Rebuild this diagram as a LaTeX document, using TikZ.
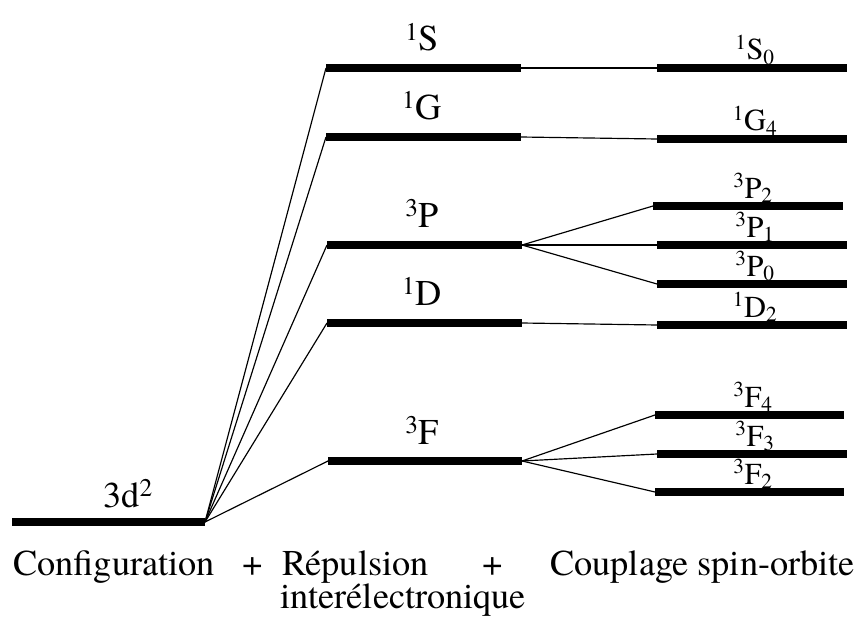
\documentclass[tikz,border=0pt]{standalone}
\usepackage{fontspec}
\setmainfont{texgyretermes-regular.otf}
\begin{document}
\begin{tikzpicture}[x=0.03cm,y=-0.03cm,
  lvl/.style={line width=0.24cm},
  conn/.style={line width=1pt},
  term/.style={font=\fontsize{31}{36}\selectfont,anchor=base,inner sep=0pt},
  fine/.style={font=\fontsize{26}{30}\selectfont,anchor=base,inner sep=0pt}]
\useasboundingbox (0,0) rectangle (858,618);
% configuration
\coordinate (cfg-l) at (12,522); \coordinate (cfg-r) at (205,522);
% interelectronic repulsion terms
\coordinate (S-l) at (326,68);  \coordinate (S-r) at (521,68);
\coordinate (G-l) at (326,137); \coordinate (G-r) at (521,137);
\coordinate (P-l) at (327,245); \coordinate (P-r) at (522,245);
\coordinate (D-l) at (327,323); \coordinate (D-r) at (522,323);
\coordinate (F-l) at (328,461); \coordinate (F-r) at (522,461);
% spin-orbit levels (left ends)
\coordinate (S0) at (657,68);
\coordinate (G4) at (657,139);
\coordinate (P2) at (653,206);
\coordinate (P1) at (657,245);
\coordinate (P0) at (657,284);
\coordinate (D2) at (657,325);
\coordinate (F4) at (655,415);
\coordinate (F3) at (657,454);
\coordinate (F2) at (655,492);
% labels
\node[term] (cfg-lab) at (128,507) {3d\textsuperscript{2}};
\node[term] (S-lab) at (422,51) {\textsuperscript{1}S};
\node[term] (G-lab) at (422,119) {\textsuperscript{1}G};
\node[term] (P-lab) at (422,227) {\textsuperscript{3}P};
\node[term] (D-lab) at (422,305) {\textsuperscript{1}D};
\node[term] (F-lab) at (422,444) {\textsuperscript{3}F};
\node[fine] (S0-lab) at (755,60) {\textsuperscript{1}S\textsubscript{0}};
\node[fine] (G4-lab) at (755,131) {\textsuperscript{1}G\textsubscript{4}};
\node[fine] (P2-lab) at (753,198) {\textsuperscript{3}P\textsubscript{2}};
\node[fine] (P1-lab) at (755,237) {\textsuperscript{3}P\textsubscript{1}};
\node[fine] (P0-lab) at (755,276) {\textsuperscript{3}P\textsubscript{0}};
\node[fine] (D2-lab) at (755,317) {\textsuperscript{1}D\textsubscript{2}};
\node[fine] (F4-lab) at (753,407) {\textsuperscript{3}F\textsubscript{4}};
\node[fine] (F3-lab) at (755,446) {\textsuperscript{3}F\textsubscript{3}};
\node[fine] (F2-lab) at (753,484) {\textsuperscript{3}F\textsubscript{2}};
% levels
\draw[lvl] (cfg-l) -- (cfg-r);
\draw[lvl] (S-l) -- (S-r);
\draw[lvl] (G-l) -- (G-r);
\draw[lvl] (P-l) -- (P-r);
\draw[lvl] (D-l) -- (D-r);
\draw[lvl] (F-l) -- (F-r);
\draw[lvl] (S0) -- ++(190,0);
\draw[lvl] (G4) -- ++(190,0);
\draw[lvl] (P2) -- ++(190,0);
\draw[lvl] (P1) -- ++(190,0);
\draw[lvl] (P0) -- ++(190,0);
\draw[lvl] (D2) -- ++(190,0);
\draw[lvl] (F4) -- ++(189,0);
\draw[lvl] (F3) -- ++(190,0);
\draw[lvl] (F2) -- ++(189,0);
% connectors
\draw[conn] (cfg-r) -- (S-l);
\draw[conn] (cfg-r) -- (G-l);
\draw[conn] (cfg-r) -- (P-l);
\draw[conn] (cfg-r) -- (D-l);
\draw[conn] (cfg-r) -- (F-l);
\draw[conn] (S-r) -- (S0);
\draw[conn] (G-r) -- (G4);
\draw[conn] (P-r) -- (P2);
\draw[conn] (P-r) -- (P1);
\draw[conn] (P-r) -- (P0);
\draw[conn] (D-r) -- (D2);
\draw[conn] (F-r) -- (F4);
\draw[conn] (F-r) -- (F3);
\draw[conn] (F-r) -- (F2);
% bottom captions
\node[term,anchor=base west] (cfg-txt) at (13,575) {Configuration};
\node[term] (plus-a) at (253,575) {+};
\node[term,anchor=base west] (rep-txt) at (282,575) {Répulsion};
\node[term] (plus-b) at (493,575) {+};
\node[term,anchor=base west] (so-txt) at (550,575) {Couplage spin-orbite};
\node[term,anchor=base west] (int-txt) at (280,608) {interélectronique};
\end{tikzpicture}
\end{document}
